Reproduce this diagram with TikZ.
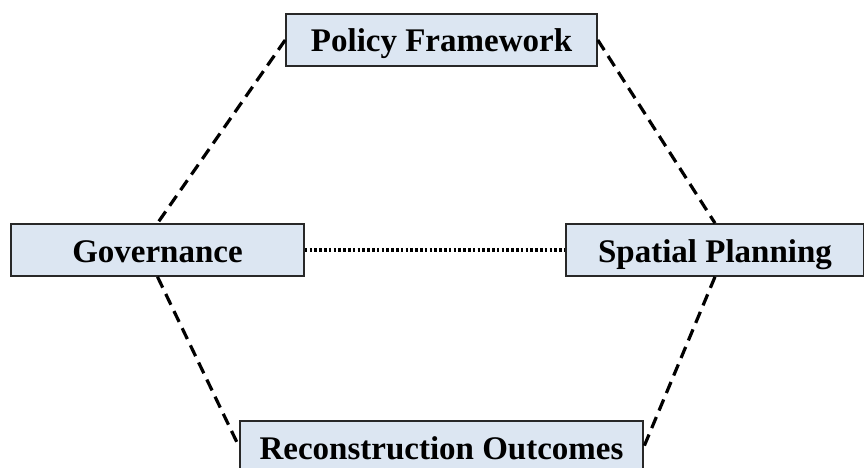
\documentclass[tikz,border=0pt]{standalone}
\usepackage{fontspec}
\setmainfont{Liberation Serif}
\usetikzlibrary{positioning}
\definecolor{factorfill}{RGB}{220,230,242}
\definecolor{factorline}{RGB}{40,40,40}

\begin{document}
\begin{tikzpicture}
[x=1pt, y=1pt, font=\fontsize{33}{38}\selectfont\bfseries,
% STYLES
factor/.style={rectangle, draw=factorline, line width=1.6pt, fill=factorfill, inner sep=0pt, minimum height=52pt, text height=28pt, text depth=4pt, text=black},
link/.style={line width=3.2pt, dash pattern=on 12pt off 7pt, black},
tie/.style={line width=3.4pt, dash pattern=on 2.6pt off 2.2pt, black}]

\clip (0,0) rectangle (864,-468);
\useasboundingbox (0,0) rectangle (864,-468);

% factors
\node [factor, minimum width=311pt] (policy) at (441.5,-40) {Policy Framework};
\node [factor, minimum width=293pt] (gov) at (157.5,-250) {Governance};
\node [factor, minimum width=298pt] (spatial) at (715,-250) {Spatial Planning};
\node [factor, minimum width=403pt] (recon) at (441.5,-447) {Reconstruction Outcomes};

%%%%%%%%%%%%%%%%

\path[link]
(policy.west) edge (gov.north)
(policy.east) edge (spatial.north)
(gov.south) edge (recon.west)
(spatial.south) edge (recon.east);

\draw[tie] (gov.east) -- (spatial.west);

\end{tikzpicture}
\end{document}
